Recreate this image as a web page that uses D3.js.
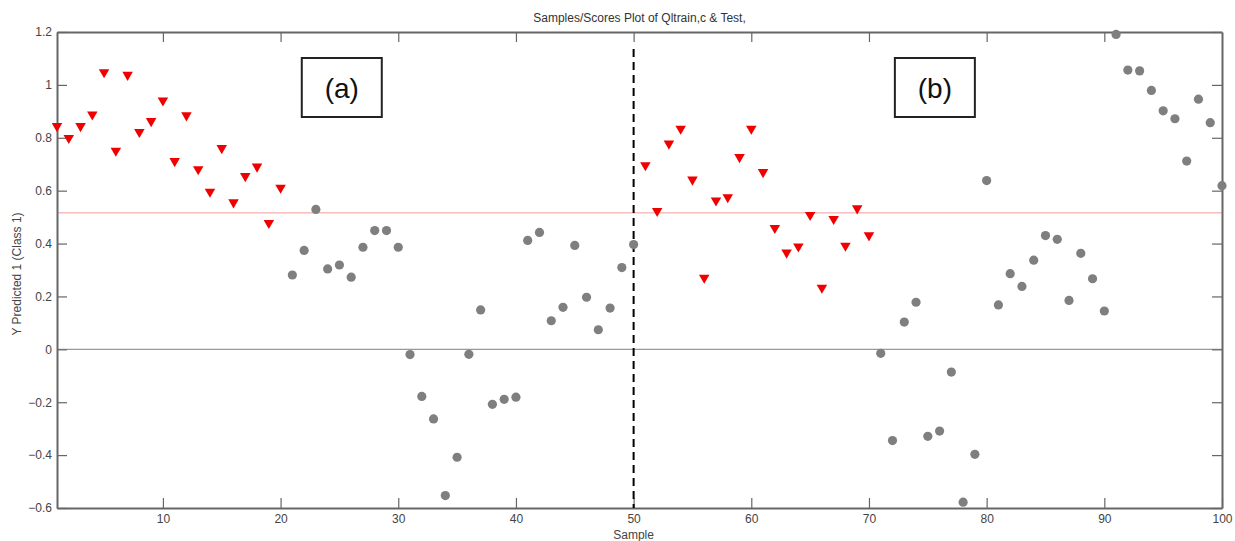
<!DOCTYPE html>
<html><head><meta charset="utf-8">
<script src="https://cdn.jsdelivr.net/npm/d3@7"></script>
<style>body{margin:0;background:#fff;}svg{display:block;font-family:"Liberation Sans",Arial,sans-serif;}</style>
</head><body><svg id="c" width="1235" height="541"></svg>
<script>
const title = "Samples/Scores Plot of Qltrain,c & Test,";
const xLabel = "Sample";
const yLabel = "Y Predicted 1 (Class 1)";
const xTicks = [10,20,30,40,50,60,70,80,90,100];
const yTicks = [-0.6,-0.4,-0.2,0,0.2,0.4,0.6,0.8,1,1.2];
const threshold = 0.516;
const splitAt = 50;
const panelLabels = ["(a)","(b)"];
const panelLabelX = [25.2, 75.6];
// Class 1 (red triangles)
const class1A = [0.844,0.799,0.844,0.888,1.048,0.751,1.038,0.822,0.863,0.941,0.712,0.885,0.681,0.596,0.761,0.556,0.655,0.691,0.478,0.611];
const class1B = [0.696,0.523,0.778,0.834,0.642,0.271,0.563,0.575,0.727,0.834,0.670,0.459,0.366,0.389,0.508,0.233,0.493,0.392,0.533,0.431];
// Other class (grey circles)
const class2A = [0.281,0.374,0.529,0.304,0.319,0.273,0.386,0.449,0.449,0.386,-0.020,-0.178,-0.263,-0.553,-0.408,-0.019,0.149,-0.208,-0.189,-0.181,0.412,0.442,0.108,0.159,0.393,0.197,0.074,0.156,0.309,0.396];
const class2B = [-0.015,-0.345,0.103,0.178,-0.329,-0.309,-0.086,-0.578,-0.397,0.638,0.168,0.286,0.238,0.337,0.430,0.416,0.185,0.363,0.267,0.145,1.191,1.056,1.053,0.979,0.902,0.872,0.712,0.946,0.857,0.619];

const red = class1A.map((v,i)=>({s:i+1,v})).concat(class1B.map((v,i)=>({s:i+51,v})));
const grey = class2A.map((v,i)=>({s:i+21,v})).concat(class2B.map((v,i)=>({s:i+71,v})));

const svg = d3.select("#c");
const L=57, R=1222, T=32, B=508;
const x = d3.scaleLinear().domain([1,100]).range([L,R]);
const y = d3.scaleLinear().domain([-0.6,1.2]).range([B,T]);
const axisCol = "#666", txtCol = "#444";

// reference lines
svg.append("line").attr("x1",L).attr("x2",R).attr("y1",y(0)).attr("y2",y(0)).attr("stroke","#999").attr("stroke-width",1.2);
svg.append("line").attr("x1",L).attr("x2",R).attr("y1",y(threshold)).attr("y2",y(threshold)).attr("stroke","#f29a9a").attr("stroke-width",1);

// axes
const fmt = d=>d3.format("~g")(d);
const gB = svg.append("g").attr("transform",`translate(0,${B})`).call(d3.axisBottom(x).tickValues(xTicks).tickSizeInner(-10).tickSizeOuter(0).tickPadding(6));
const gT = svg.append("g").attr("transform",`translate(0,${T})`).call(d3.axisTop(x).tickValues(xTicks.slice(0,-1)).tickSizeInner(-10).tickSizeOuter(0).tickFormat(""));
const gL = svg.append("g").attr("transform",`translate(${L},0)`).call(d3.axisLeft(y).tickValues(yTicks).tickSizeInner(-10).tickSizeOuter(0).tickPadding(5).tickFormat(fmt));
const gR = svg.append("g").attr("transform",`translate(${R},0)`).call(d3.axisRight(y).tickValues(yTicks).tickSizeInner(-10).tickSizeOuter(0).tickFormat(""));
[gB,gT,gL,gR].forEach(g=>{
  g.select(".domain").attr("stroke",axisCol).attr("stroke-width",2);
  g.selectAll(".tick line").attr("stroke",axisCol).attr("stroke-width",1.2);
  g.selectAll(".tick text").attr("fill",txtCol).style("font-size","12px").style("font-family","Liberation Sans, Arial, sans-serif");
});

// dashed split line
svg.append("line").attr("x1",x(splitAt)).attr("x2",x(splitAt)).attr("y1",T+17).attr("y2",B).attr("stroke","#000").attr("stroke-width",2).attr("stroke-dasharray","8,5");

// points
svg.append("g").selectAll("circle").data(grey).join("circle")
  .attr("cx",d=>x(d.s)).attr("cy",d=>y(d.v)).attr("r",4.6).attr("fill","#7f7f7f");
const tri = d3.symbol().type(d3.symbolTriangle).size(48);
svg.append("g").selectAll("path").data(red).join("path")
  .attr("d",tri).attr("transform",d=>`translate(${x(d.s)},${y(d.v)}) rotate(180)`).attr("fill","#f00000");

// panel labels
panelLabels.forEach((t,i)=>{
  const cx = x(panelLabelX[i]);
  svg.append("rect").attr("x",cx-40).attr("y",58).attr("width",80).attr("height",59).attr("fill","#fff").attr("stroke","#222").attr("stroke-width",2);
  svg.append("text").attr("x",cx).attr("y",98).attr("text-anchor","middle").attr("fill","#111").style("font-size","28px").style("font-family","Liberation Sans, Arial, sans-serif").text(t);
});

// titles
svg.append("text").attr("x",(L+R)/2).attr("y",22).attr("text-anchor","middle").attr("fill","#333").style("font-size","12px").text(title);
svg.append("text").attr("x",x(50)).attr("y",539).attr("text-anchor","middle").attr("fill","#444").style("font-size","12px").text(xLabel);
svg.append("text").attr("transform",`translate(21,274) rotate(-90)`).attr("text-anchor","middle").attr("fill","#444").style("font-size","12px").text(yLabel);
</script></body></html>
